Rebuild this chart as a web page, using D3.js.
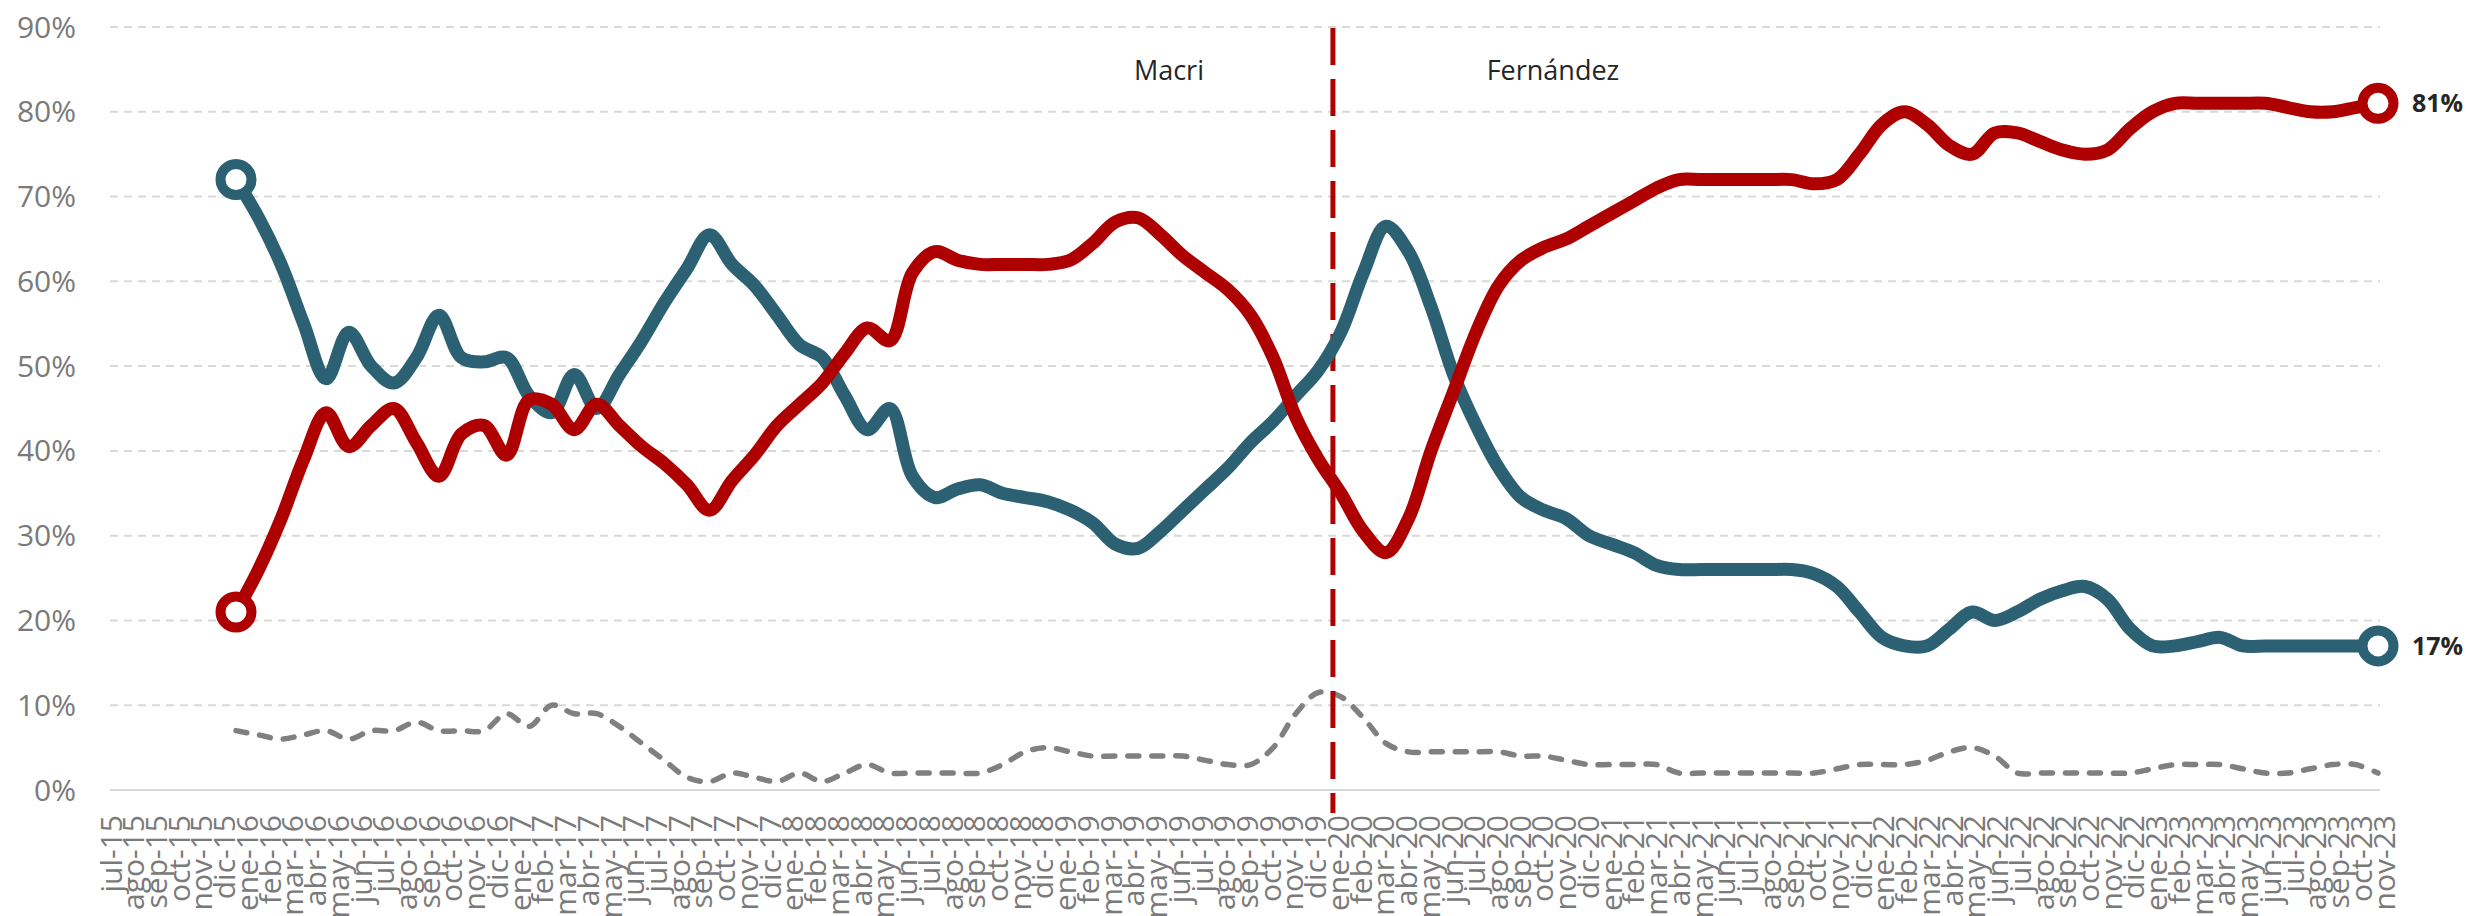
<!DOCTYPE html>
<html>
<head>
<meta charset="utf-8">
<script src="https://cdn.jsdelivr.net/npm/d3@7/dist/d3.min.js"></script>
<style>
  body { margin: 0; background: #fff; }
  text { font-family: "Open Sans", "Noto Sans", sans-serif; }
</style>
</head>
<body>
<div id="chart"></div>
<script>
// month labels of the category axis
var axisMonths = [
  "jul-15","ago-15","sep-15","oct-15","nov-15","dic-15",
  "ene-16","feb-16","mar-16","abr-16","may-16","jun-16","jul-16","ago-16","sep-16","oct-16","nov-16","dic-16",
  "ene-17","feb-17","mar-17","abr-17","may-17","jun-17","jul-17","ago-17","sep-17","oct-17","nov-17","dic-17",
  "ene-18","feb-18","mar-18","abr-18","may-18","jun-18","jul-18","ago-18","sep-18","oct-18","nov-18","dic-18",
  "ene-19","feb-19","mar-19","abr-19","may-19","jun-19","jul-19","ago-19","sep-19","oct-19","nov-19","dic-19",
  "ene-20","feb-20","mar-20","abr-20","may-20","jun-20","jul-20","ago-20","sep-20","oct-20","nov-20","dic-20",
  "ene-21","feb-21","mar-21","abr-21","may-21","jun-21","jul-21","ago-21","sep-21","oct-21","nov-21","dic-21",
  "ene-22","feb-22","mar-22","abr-22","may-22","jun-22","jul-22","ago-22","sep-22","oct-22","nov-22","dic-22",
  "ene-23","feb-23","mar-23","abr-23","may-23","jun-23","jul-23","ago-23","sep-23","oct-23","nov-23"
];

// survey months (dic-15 .. nov-23)
var serieMonths = axisMonths.slice(5);

// blue series (%)
var azul = [
  72, 67.5, 62, 55, 48.5, 54, 50, 48, 51, 56, 51, 50.5, 51,
  46.5, 44.5, 49, 45, 49, 53, 57.5, 61.5, 65.5, 62, 59.5, 56,
  52.5, 51, 46.5, 42.5, 45, 37, 34.5, 35.5, 36, 35, 34.5, 34,
  33, 31.5, 29, 28.5, 30.5, 33, 35.5, 38, 41, 43.5, 46.5, 49.5,
  54, 61, 66.5, 63.5, 57, 49, 43, 38, 34.5, 33, 32, 30, 29,
  28, 26.5, 26, 26, 26, 26, 26, 26, 25.5, 24, 21, 18,
  17, 17, 19, 21, 20, 21, 22.5, 23.5, 24, 22.5, 19, 17,
  17, 17.5, 18, 17, 17, 17, 17, 17, 17, 17
];

// red series (%)
var rojo = [
  21, 26, 32, 39, 44.5, 40.5, 43, 45, 41, 37, 42, 43, 39.5,
  46, 45.5, 42.5, 45.5, 43, 40.5, 38.5, 36, 33, 36.5, 39.5, 43,
  45.5, 48, 51.5, 54.5, 53, 61, 63.5, 62.5, 62, 62, 62, 62,
  62.5, 64.5, 67, 67.5, 65.5, 63, 61, 59, 56, 51, 44, 39,
  35, 30.5, 28, 32, 40, 47, 54, 59.5, 62.5, 64, 65, 66.5, 68,
  69.5, 71, 72, 72, 72, 72, 72, 72, 71.5, 72, 75, 78.5,
  80, 78.5, 76, 75, 77.5, 77.5, 76.5, 75.5, 75, 75.5, 78, 80,
  81, 81, 81, 81, 81, 80.5, 80, 80, 80.5, 81
];

// gray dashed series (%)
var gris = [
  7, 6.5, 6, 6.5, 7, 6, 7, 7, 8, 7, 7, 7, 9,
  7.5, 10, 9, 9, 7.5, 5.5, 3.5, 1.5, 1, 2, 1.5, 1,
  2, 1, 2, 3, 2, 2, 2, 2, 2, 3, 4.5, 5,
  4.5, 4, 4, 4, 4, 4, 3.5, 3, 3, 5, 9, 11.5,
  11, 8.5, 5.5, 4.5, 4.5, 4.5, 4.5, 4.5, 4, 4, 3.5, 3, 3,
  3, 3, 2, 2, 2, 2, 2, 2, 2, 2.5, 3, 3,
  3, 3.5, 4.5, 5, 4, 2, 2, 2, 2, 2, 2, 2.5,
  3, 3, 3, 2.5, 2, 2, 2.5, 3, 3, 2
];

var yTicks = [0, 10, 20, 30, 40, 50, 60, 70, 80, 90];
var periodos = ["Macri", "Fernández"];

var W = 2466, H = 916;

var svg = d3.select("#chart")
  .append("svg")
  .attr("width", W)
  .attr("height", H);

// scales
var x = d3.scalePoint()
  .domain(axisMonths)
  .range([111, 2384]);

var xs = d3.scalePoint()
  .domain(serieMonths)
  .range([236, 2378]);

var y = d3.scaleLinear()
  .domain([0, 90])
  .range([790, 27]);

// grid lines
svg.append("g")
  .selectAll("line")
  .data(yTicks)
  .enter()
  .append("line")
  .attr("x1", 110)
  .attr("x2", 2380)
  .attr("y1", function(d) { return y(d); })
  .attr("y2", function(d) { return y(d); })
  .attr("stroke", "#d9d9d9")
  .attr("stroke-width", 2)
  .attr("stroke-dasharray", function(d) { return d == 0 ? null : "8,6"; });

// y axis labels
svg.append("g")
  .selectAll("text")
  .data(yTicks)
  .enter()
  .append("text")
  .attr("x", 76)
  .attr("y", function(d) { return y(d); })
  .attr("dy", "0.35em")
  .attr("text-anchor", "end")
  .style("font-size", "30px")
  .style("fill", "#7a7a7a")
  .text(function(d) { return d + "%"; });

// x axis labels (rotated, they run off the bottom like in the original)
svg.append("g")
  .selectAll("text")
  .data(axisMonths)
  .enter()
  .append("text")
  .attr("transform", function(d) { return "translate(" + x(d) + ",815) rotate(-90)"; })
  .attr("dy", "0.35em")
  .attr("text-anchor", "end")
  .style("font-size", "30px")
  .style("fill", "#7a7a7a")
  .text(function(d) { return d; });

// line generator
var line = d3.line()
  .x(function(d, i) { return xs(serieMonths[i]); })
  .y(function(d) { return y(d); })
  .curve(d3.curveCatmullRom.alpha(0.5));

// gray dashed
svg.append("path")
  .datum(gris)
  .attr("d", line)
  .attr("fill", "none")
  .attr("stroke", "#808080")
  .attr("stroke-width", 5.5)
  .attr("stroke-dasharray", "11,13")
  .attr("stroke-linecap", "round");

// vertical separator
var xSep = xs("dic-19") + 0.65 * xs.step();
svg.append("line")
  .attr("x1", xSep)
  .attr("x2", xSep)
  .attr("y1", 28)
  .attr("y2", 813)
  .attr("stroke", "#b00000")
  .attr("stroke-width", 5)
  .attr("stroke-dasharray", "37,14");

svg.append("text")
  .attr("x", xSep - 164)
  .attr("y", 80)
  .attr("text-anchor", "middle")
  .style("font-size", "27px")
  .style("fill", "#262626")
  .text(periodos[0]);

svg.append("text")
  .attr("x", xSep + 220)
  .attr("y", 80)
  .attr("text-anchor", "middle")
  .style("font-size", "27px")
  .style("fill", "#262626")
  .text(periodos[1]);

// main lines
var series = [
  { vals: azul, color: "#2b6173" },
  { vals: rojo, color: "#ae0000" }
];

series.forEach(function(s) {
  svg.append("path")
    .datum(s.vals)
    .attr("d", line)
    .attr("fill", "none")
    .attr("stroke", s.color)
    .attr("stroke-width", 13)
    .attr("stroke-linejoin", "round")
    .attr("stroke-linecap", "round");

  var ends = [0, s.vals.length - 1];
  svg.append("g")
    .selectAll("circle")
    .data(ends)
    .enter()
    .append("circle")
    .attr("cx", function(i) { return xs(serieMonths[i]); })
    .attr("cy", function(i) { return y(s.vals[i]); })
    .attr("r", 15.5)
    .attr("fill", "#fff")
    .attr("stroke", s.color)
    .attr("stroke-width", 10);

  var last = s.vals.length - 1;
  svg.append("text")
    .attr("x", xs(serieMonths[last]) + 34)
    .attr("y", y(s.vals[last]))
    .attr("dy", "0.35em")
    .style("font-size", "25px")
    .style("font-weight", "bold")
    .style("fill", "#262626")
    .text(Math.round(s.vals[last]) + "%");
});
</script>
</body>
</html>
